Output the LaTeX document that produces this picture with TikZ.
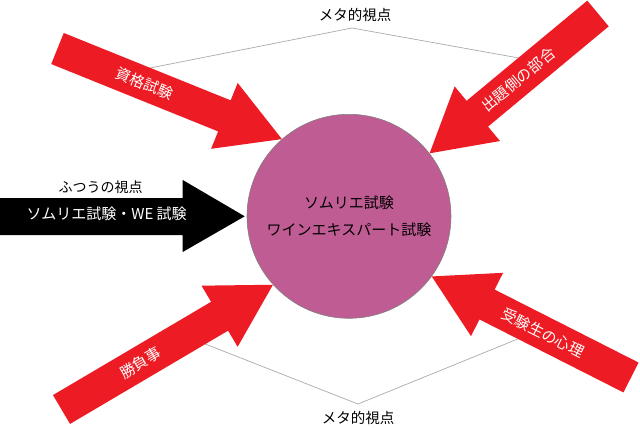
\documentclass[tikz,border=0pt]{standalone}
\usepackage{fontspec}
\setmainfont{Noto Sans CJK JP}
\usetikzlibrary{calc}
\definecolor{hubpink}{RGB}{192,92,148}
\definecolor{arrred}{RGB}{237,28,36}
\definecolor{metagray}{RGB}{170,170,170}
\newcommand{\jpsize}[1]{\fontsize{#1pt}{27.5pt}\selectfont}
\newcommand{\blockarrow}[3]{%
  \coordinate (#2j) at ($(#3)!62pt!(#2)$);
  \fill[#1] ($(#2)!16.75pt!90:(#3)$) -- ($(#2j)!16.75pt!90:(#3)$) -- ($(#2j)!35.5pt!90:(#3)$) -- (#3)
    -- ($(#2j)!35.5pt!-90:(#3)$) -- ($(#2j)!16.75pt!-90:(#3)$) -- ($(#2)!16.75pt!-90:(#3)$) -- cycle;}
\begin{document}
\begin{tikzpicture}[x=1pt,y=-1pt,
    armlabel/.style={text=white,font=\jpsize{15}},
    metalabel/.style={font=\jpsize{14.5}}]
  \useasboundingbox (0,0) rectangle (640,428);
  % meta view lines
  \coordinate(mtop)at(352,28);\coordinate(mbot)at(358,404);
  \draw[metagray,line width=0.7pt] (140,70) -- (mtop) -- (530,60);
  \draw[metagray,line width=0.7pt] (195,340) -- (mbot) -- (530,334);
  \node[metalabel] (mtoplbl) at (355,15) {メタ的視点};
  \node[metalabel] (mbotlbl) at (358,418) {メタ的視点};
  % centre circle
  \node[circle,draw=gray,line width=0.6pt,fill=hubpink,minimum size=204pt,inner sep=0pt,
        align=center,font=\jpsize{15}] (hub) at (349,216.3) {ソムリエ試験\\ワインエキスパート試験};
  % red arrows
  \coordinate(qual)at(57.5,48.5);\coordinate(setter)at(598,13.5);
  \coordinate(match)at(61.5,409.5);\coordinate(mind)at(631,377.5);
  \coordinate(qualtip)at(hub.131);\coordinate(settertip)at(hub.38);
  \coordinate(matchtip)at(hub.222);\coordinate(mindtip)at(hub.324);
  \blockarrow{arrred}{qual}{qualtip}
  \blockarrow{arrred}{setter}{settertip}
  \blockarrow{arrred}{match}{matchtip}
  \blockarrow{arrred}{mind}{mindtip}
  \node[armlabel,rotate=-21.7] (quallbl) at ($(qual)!0.52!(qualj)$) {資格試験};
  \node[armlabel,rotate=39.5] (setterlbl) at ($(setter)!0.66!(setterj)$) {出題側の部合};
  \node[armlabel,rotate=30.6] (matchlbl) at ($(match)!0.5!(matchj)$) {勝負事};
  \node[armlabel,rotate=-26.9] (mindlbl) at ($(mind)!0.61!(mindj)$) {受験生の心理};
  % ordinary view arrow
  \coordinate(usual)at(0,216.5);\coordinate(usualtip)at($(hub.west)+(-2,0)$);
  \fill[black] ($(usual)+(0,-18.5)$) -- (182.7,198) -- (182.7,180) -- (usualtip) -- (182.7,252)
    -- (182.7,235) -- ($(usual)+(0,18.5)$) -- cycle;
  \node[font=\jpsize{14}] (usuallbl) at (100.5,187.5) {ふつうの視点};
  \node[armlabel] (usualname) at (106.7,214) {ソムリエ試験・WE 試験};
\end{tikzpicture}
\end{document}
